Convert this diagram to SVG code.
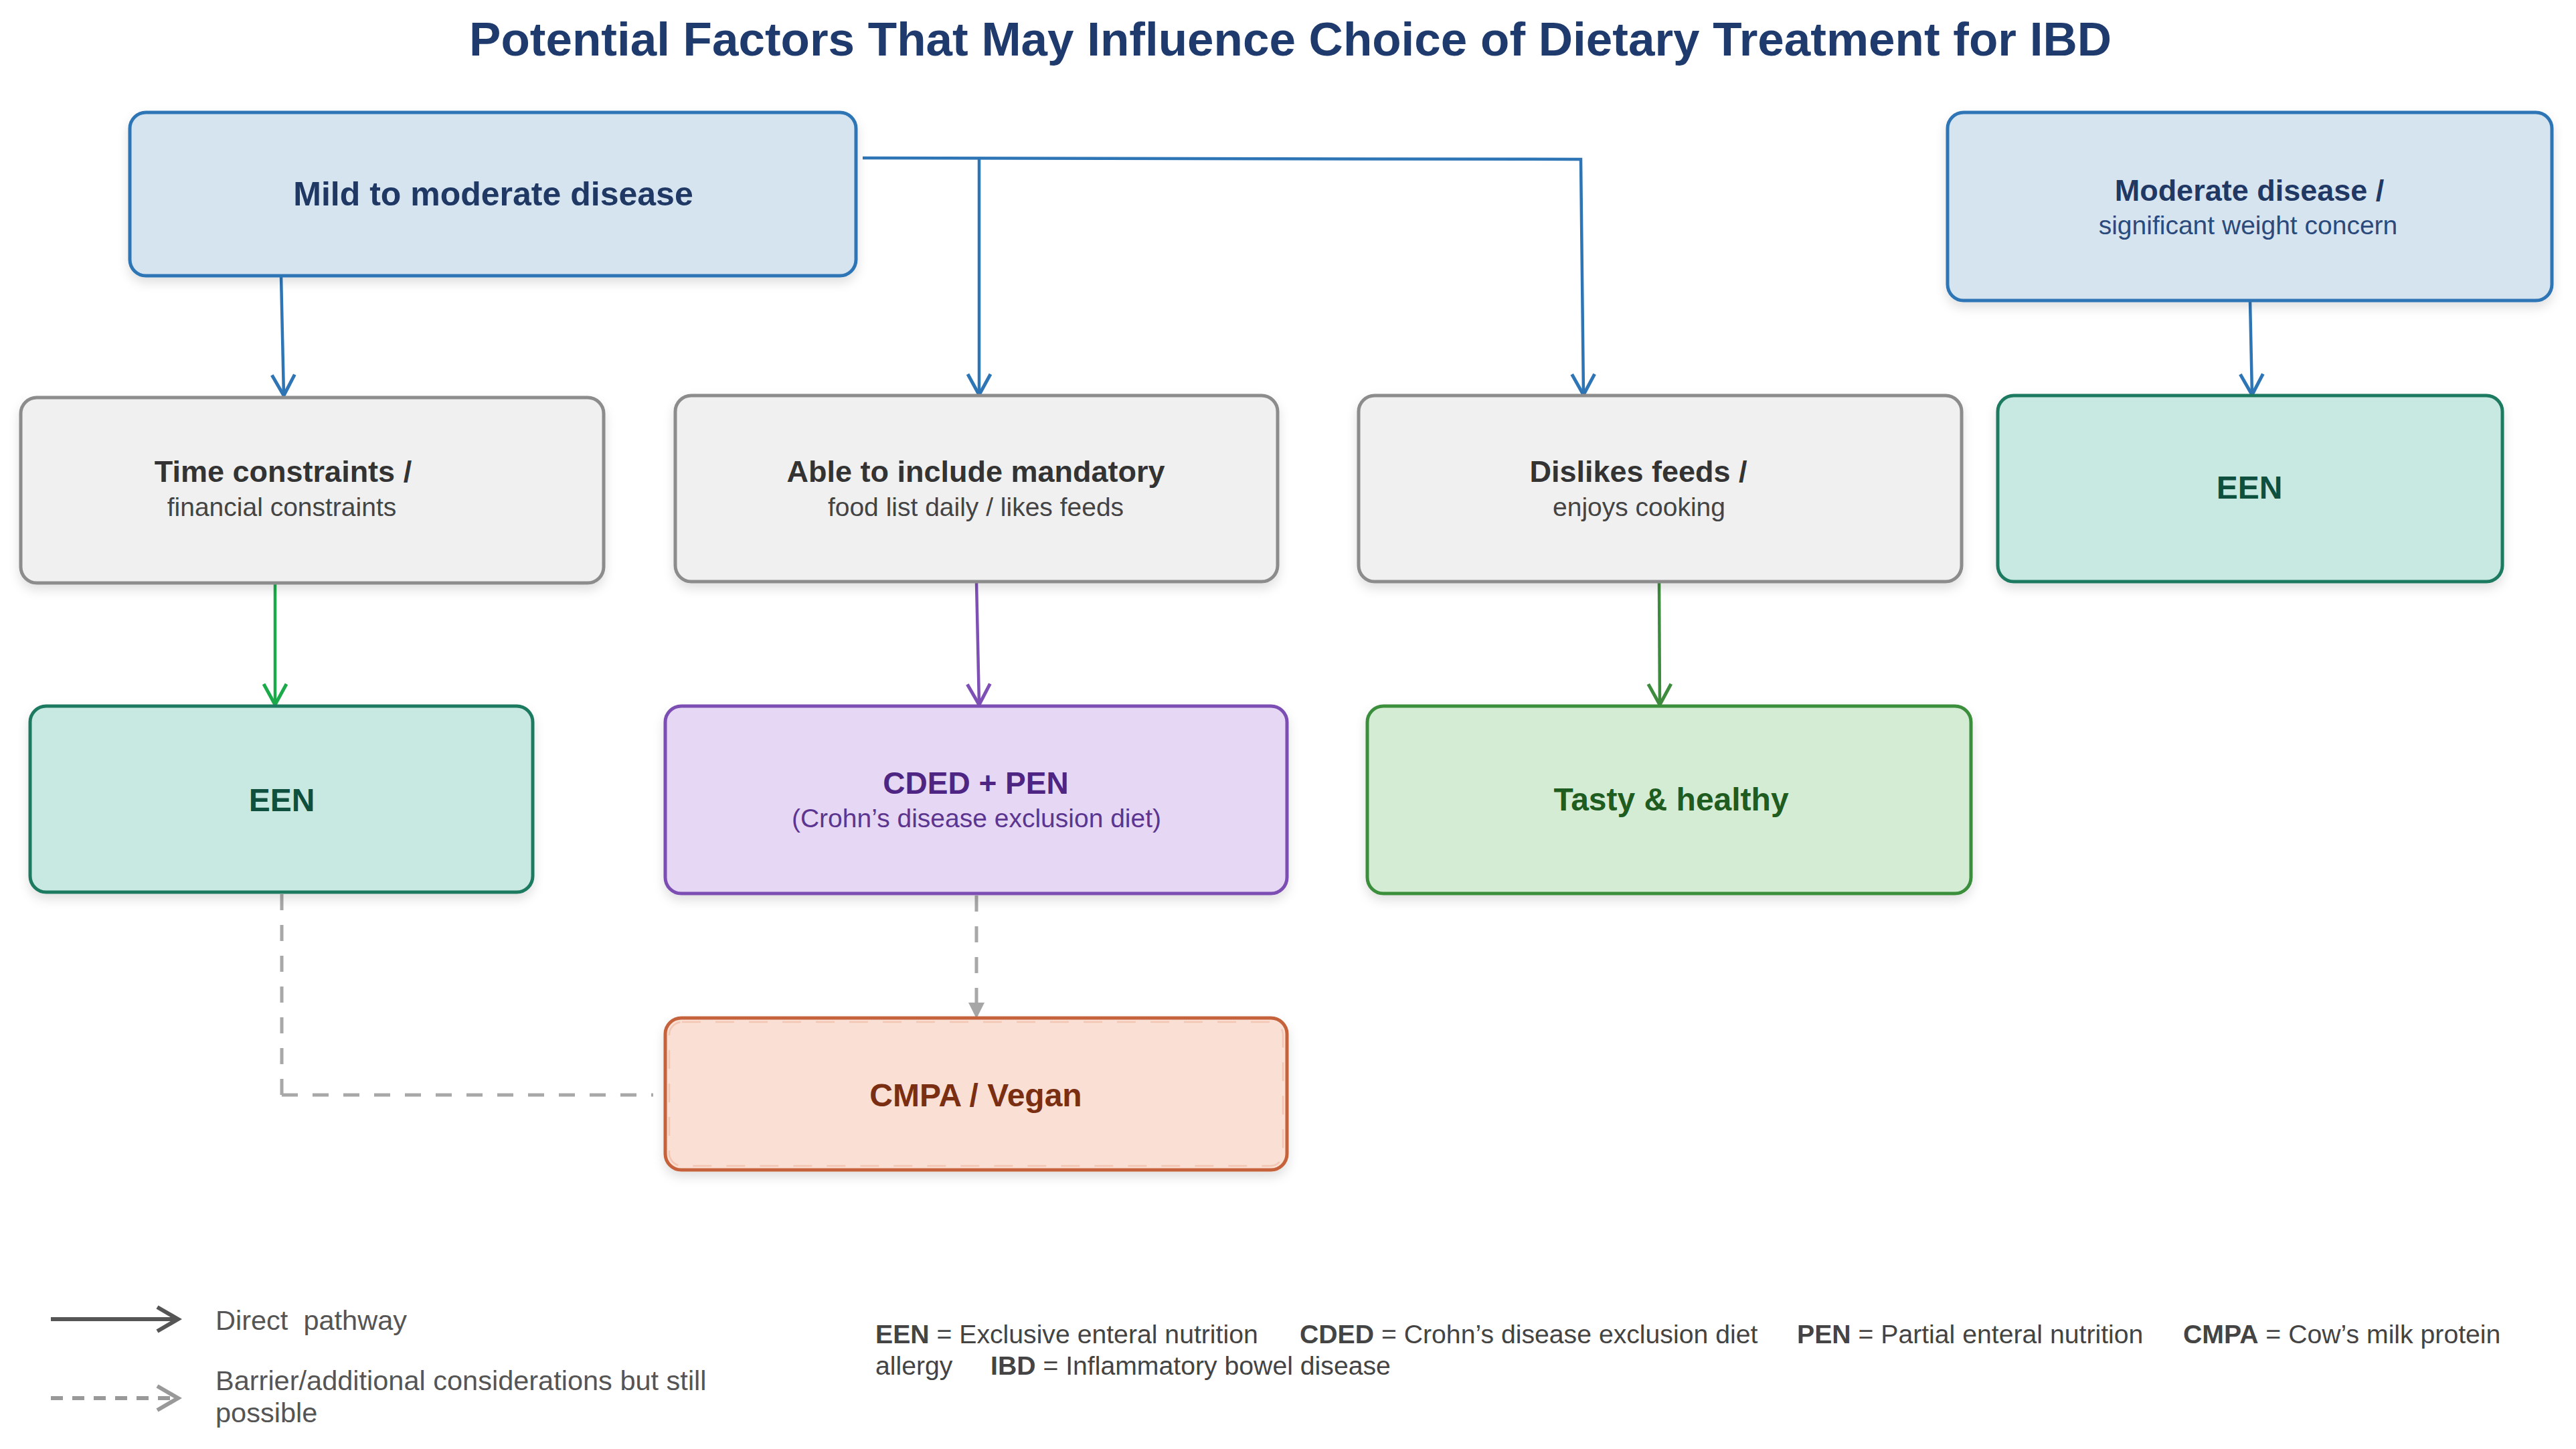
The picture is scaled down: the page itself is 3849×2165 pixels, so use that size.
<svg xmlns="http://www.w3.org/2000/svg" width="3849" height="2165" viewBox="0 0 3849 2165">
<style>
text{font-family:"Liberation Sans",Arial,sans-serif}
.t{font-weight:bold;text-anchor:middle}
.s{text-anchor:middle}
.box{stroke-width:5}
.blue{fill:#d6e4f0;stroke:#2e75b6}
.gray{fill:#f0f0f0;stroke:#8c8c8c}
.teal{fill:#c8e9e1;stroke:#1f7a60}
.purple{fill:#e6d8f4;stroke:#7b4db2}
.peach{fill:#fadfd4;stroke:#c6623a}
.green{fill:#d5ecd4;stroke:#3a8e3a}
.ln{fill:none;stroke-width:4.5}
.dash{fill:none;stroke:#a8a8a8;stroke-width:5;stroke-dasharray:24 22}
.leg{font-size:41.5px;fill:#555}
.ab{font-size:39.2px;fill:#444}
</style>
<defs>
<filter id="sh" x="-5%" y="-5%" width="110%" height="125%">
<feDropShadow dx="0" dy="8" stdDeviation="8" flood-color="#000" flood-opacity="0.12"/>
</filter>
<marker id="aBlue" markerUnits="userSpaceOnUse" viewBox="-40 -25 50 50" markerWidth="50" markerHeight="50" refX="0" refY="0" orient="auto" overflow="visible"><path d="M-31,-17 L0,0 L-31,17" fill="none" stroke="#2e75b6" stroke-width="5"/></marker>
<marker id="aGreen" markerUnits="userSpaceOnUse" viewBox="-40 -25 50 50" markerWidth="50" markerHeight="50" refX="0" refY="0" orient="auto" overflow="visible"><path d="M-31,-17 L0,0 L-31,17" fill="none" stroke="#1aaa4a" stroke-width="5"/></marker>
<marker id="aDGreen" markerUnits="userSpaceOnUse" viewBox="-40 -25 50 50" markerWidth="50" markerHeight="50" refX="0" refY="0" orient="auto" overflow="visible"><path d="M-31,-17 L0,0 L-31,17" fill="none" stroke="#3d8b3d" stroke-width="5"/></marker>
<marker id="aPurple" markerUnits="userSpaceOnUse" viewBox="-40 -25 50 50" markerWidth="50" markerHeight="50" refX="0" refY="0" orient="auto" overflow="visible"><path d="M-31,-17 L0,0 L-31,17" fill="none" stroke="#7e4fb5" stroke-width="5"/></marker>
<marker id="aDark" markerUnits="userSpaceOnUse" viewBox="-40 -25 50 50" markerWidth="50" markerHeight="50" refX="0" refY="0" orient="auto" overflow="visible"><path d="M-31,-18 L0,0 L-31,18" fill="none" stroke="#555" stroke-width="6"/></marker>
<marker id="aLight" markerUnits="userSpaceOnUse" viewBox="-40 -25 50 50" markerWidth="50" markerHeight="50" refX="0" refY="0" orient="auto" overflow="visible"><path d="M-31,-18 L0,0 L-31,18" fill="none" stroke="#999" stroke-width="6"/></marker>
</defs>
<rect width="3849" height="2165" fill="#fff"/>
<text id="title" x="1928" y="83" class="t" font-size="71" fill="#1f3b6e">Potential Factors That May Influence Choice of Dietary Treatment for IBD</text>

<g id="connectors">
<path class="ln" stroke="#2e75b6" d="M420,412 L424,591" marker-end="url(#aBlue)"/>
<path class="ln" stroke="#2e75b6" d="M1289,236 L2362,238 L2366,590" marker-end="url(#aBlue)"/>
<path class="ln" stroke="#2e75b6" d="M1463,236 L1463,590" marker-end="url(#aBlue)"/>
<path class="ln" stroke="#2e75b6" d="M3362,449 L3365,590" marker-end="url(#aBlue)"/>
<path class="ln" stroke="#1aaa4a" d="M411,871 L411,1053" marker-end="url(#aGreen)"/>
<path class="ln" stroke="#7e4fb5" d="M1459,869 L1463,1053" marker-end="url(#aPurple)"/>
<path class="ln" stroke="#3d8b3d" d="M2479,869 L2480,1053" marker-end="url(#aDGreen)"/>
<path class="dash" d="M1459,1338 L1459,1498"/>
<polygon points="1447,1498 1471,1498 1459,1522" fill="#a6a6a6"/>
<path class="dash" d="M421,1336 L421,1636"/>
<path class="dash" d="M421,1636 L976,1636" stroke-width="6" stroke-dasharray="22 18"/>
</g>

<g id="n-mild">
<rect class="box blue" x="194" y="168" width="1085" height="244" rx="24" filter="url(#sh)"/>
<text x="737" y="307" class="t" font-size="50" fill="#1f3864">Mild to moderate disease</text>
</g>
<g id="n-moderate">
<rect class="box blue" x="2910" y="168" width="903" height="281" rx="24" filter="url(#sh)"/>
<text x="3361" y="300" class="t" font-size="45" fill="#1f3864">Moderate disease /</text>
<text x="3359" y="350" class="s" font-size="39" fill="#2b4a7c">significant weight concern</text>
</g>
<g id="n-time">
<rect class="box gray" x="31" y="594" width="871" height="277" rx="24" filter="url(#sh)"/>
<text x="423" y="720" class="t" font-size="45" fill="#333">Time constraints /</text>
<text x="421" y="771" class="s" font-size="39" fill="#444">financial constraints</text>
</g>
<g id="n-able">
<rect class="box gray" x="1009" y="591" width="900" height="278" rx="24" filter="url(#sh)"/>
<text x="1458" y="720" class="t" font-size="45" fill="#333">Able to include mandatory</text>
<text x="1458" y="771" class="s" font-size="39" fill="#444">food list daily / likes feeds</text>
</g>
<g id="n-dislikes">
<rect class="box gray" x="2030" y="591" width="901" height="278" rx="24" filter="url(#sh)"/>
<text x="2448" y="720" class="t" font-size="45" fill="#333">Dislikes feeds /</text>
<text x="2449" y="771" class="s" font-size="39" fill="#444">enjoys cooking</text>
</g>
<g id="n-een-right">
<rect class="box teal" x="2985" y="591" width="754" height="278" rx="24" filter="url(#sh)"/>
<text x="3361" y="745" class="t" font-size="48" fill="#0f4f3e">EEN</text>
</g>
<g id="n-een-left">
<rect class="box teal" x="45" y="1055" width="751" height="278" rx="24" filter="url(#sh)"/>
<text x="421" y="1212" class="t" font-size="48" fill="#0f4f3e">EEN</text>
</g>
<g id="n-cded">
<rect class="box purple" x="994" y="1055" width="929" height="280" rx="24" filter="url(#sh)"/>
<text x="1458" y="1186" class="t" font-size="46" fill="#4e2583">CDED + PEN</text>
<text x="1459" y="1236" class="s" font-size="39" fill="#5b3590">(Crohn’s disease exclusion diet)</text>
</g>
<g id="n-tasty">
<rect class="box green" x="2043" y="1055" width="902" height="280" rx="24" filter="url(#sh)"/>
<text x="2497" y="1211" class="t" font-size="48" fill="#1f5c1f">Tasty &amp; healthy</text>
</g>
<g id="n-cmpa">
<rect class="box peach" x="994" y="1521" width="929" height="227" rx="24" filter="url(#sh)"/>
<rect x="1000" y="1527" width="917" height="215" rx="19" fill="none" stroke="#f2c6b3" stroke-width="2.5" stroke-dasharray="28 22"/>
<text x="1458" y="1653" class="t" font-size="48" fill="#7a2e12">CMPA / Vegan</text>
</g>

<g id="legend">
<path d="M76,1971 L266,1971" stroke="#555" stroke-width="6" fill="none" marker-end="url(#aDark)"/>
<text x="322" y="1987" class="leg" xml:space="preserve">Direct  pathway</text>
<path d="M76,2089 L266,2089" stroke="#999" stroke-width="6" stroke-dasharray="18 14" fill="none" marker-end="url(#aLight)"/>
<text x="322" y="2077" class="leg">Barrier/additional considerations but still</text>
<text x="322" y="2125" class="leg">possible</text>
<text class="ab" y="2007"><tspan x="1308" font-weight="bold">EEN</tspan><tspan> = Exclusive enteral nutrition</tspan></text>
<text class="ab" y="2007"><tspan x="1942" font-weight="bold">CDED</tspan><tspan> = Crohn’s disease exclusion diet</tspan></text>
<text class="ab" y="2007"><tspan x="2685" font-weight="bold">PEN</tspan><tspan> = Partial enteral nutrition</tspan></text>
<text class="ab" y="2007"><tspan x="3262" font-weight="bold">CMPA</tspan><tspan> = Cow’s milk protein</tspan></text>
<text class="ab" x="1308" y="2054">allergy</text>
<text class="ab" y="2054"><tspan x="1480" font-weight="bold">IBD</tspan><tspan> = Inflammatory bowel disease</tspan></text>
</g>
</svg>
